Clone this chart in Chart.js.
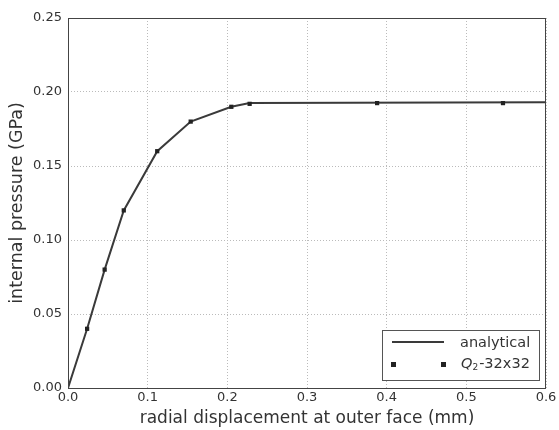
<!DOCTYPE html>
<html>
<head>
<meta charset="utf-8">
<script src="https://cdn.jsdelivr.net/npm/chart.js@4/dist/chart.umd.min.js"></script>
<style>
  html, body { margin: 0; padding: 0; background: #fff; }
  #wrap { width: 559px; height: 430px; }
</style>
</head>
<body>
<div id="wrap"><canvas id="chart" width="559" height="430"></canvas></div>
<script>
// analytical solution
const analyticalX = [0, 0.024, 0.046, 0.070, 0.112, 0.154, 0.205, 0.228, 0.6];
const analyticalY = [0, 0.040, 0.080, 0.120, 0.160, 0.180, 0.190, 0.1925, 0.193];

// Q2-32x32 results
const q2X = [0.024, 0.046, 0.070, 0.112, 0.154, 0.205, 0.228, 0.388, 0.546];
const q2Y = [0.040, 0.080, 0.120, 0.160, 0.180, 0.190, 0.192, 0.1925, 0.1925];

const xTicks = [0, 0.1, 0.2, 0.3, 0.4, 0.5, 0.6];
const yTicks = [0, 0.05, 0.1, 0.15, 0.2, 0.25];

const FONT = "'DejaVu Sans', sans-serif";
const INK = "#333";

const toPoints = (xs, ys) => xs.map((x, i) => ({ x: x, y: ys[i] }));

// frame round the plot area plus matplotlib-style legend box
const framePlugin = {
  id: "frame",
  afterDraw(chart) {
    const ctx = chart.ctx;
    const a = chart.chartArea;
    ctx.save();
    ctx.strokeStyle = "#444";
    ctx.lineWidth = 1;
    ctx.strokeRect(a.left + 0.5, a.top + 0.5, a.right - a.left - 1, a.bottom - a.top);

    // legend
    const lx = 382, ly = 330, lw = 157, lh = 50;
    ctx.fillStyle = "#fff";
    ctx.fillRect(lx, ly, lw, lh);
    ctx.strokeStyle = "#555";
    ctx.strokeRect(lx + 0.5, ly + 0.5, lw, lh);

    ctx.strokeStyle = "#3a3a3a";
    ctx.lineWidth = 2;
    ctx.beginPath();
    ctx.moveTo(392, 342);
    ctx.lineTo(444, 342);
    ctx.stroke();

    ctx.fillStyle = "#222";
    ctx.fillRect(391, 362, 5, 5);
    ctx.fillRect(441, 362, 5, 5);

    ctx.fillStyle = INK;
    ctx.textBaseline = "middle";
    ctx.font = "14.5px " + FONT;
    ctx.fillText("analytical", 460, 343);
    ctx.font = "italic 14.5px " + FONT;
    ctx.fillText("Q", 461, 364);
    let w = ctx.measureText("Q").width;
    ctx.font = "9px " + FONT;
    ctx.fillText("2", 461 + w, 368);
    w += ctx.measureText("2").width;
    ctx.font = "14.5px " + FONT;
    ctx.fillText("-32x32", 461 + w + 1, 364);
    ctx.restore();
  },
};

new Chart(document.getElementById("chart"), {
  type: "scatter",
  data: {
    datasets: [
      {
        label: "analytical",
        data: toPoints(analyticalX, analyticalY),
        showLine: true,
        borderColor: "#3a3a3a",
        borderWidth: 2,
        pointRadius: 0,
        order: 2,
      },
      {
        label: "Q2-32x32",
        data: toPoints(q2X, q2Y),
        showLine: false,
        pointStyle: "rect",
        pointRadius: 3,
        backgroundColor: "#222",
        borderColor: "#222",
        borderWidth: 0,
        order: 1,
      },
    ],
  },
  options: {
    responsive: false,
    animation: false,
    layout: { padding: { top: 18, right: 13, left: 0, bottom: 0 } },
    plugins: {
      legend: { display: false },
      tooltip: { enabled: false },
    },
    scales: {
      x: {
        type: "linear",
        min: 0,
        max: 0.6,
        afterBuildTicks: (scale) => {
          scale.ticks = xTicks.map((v) => ({ value: v }));
        },
        afterFit: (scale) => {
          scale.height = 42;
        },
        ticks: {
          color: INK,
          font: { family: FONT, size: 13 },
          padding: 2,
          maxRotation: 0,
          callback: (v) => v.toFixed(1),
        },
        grid: { color: "#bbb", lineWidth: 1, drawTicks: false },
        border: { display: false, dash: [1, 2] },
        title: {
          display: true,
          text: "radial displacement at outer face (mm)",
          color: INK,
          font: { family: FONT, size: 17 },
          padding: { top: 0, bottom: 1 },
        },
      },
      y: {
        type: "linear",
        min: 0,
        max: 0.25,
        afterBuildTicks: (scale) => {
          scale.ticks = yTicks.map((v) => ({ value: v }));
        },
        afterFit: (scale) => {
          scale.width = 68;
        },
        ticks: {
          color: INK,
          font: { family: FONT, size: 13 },
          padding: 6,
          callback: (v) => v.toFixed(2),
        },
        grid: { color: "#bbb", lineWidth: 1, drawTicks: false },
        border: { display: false, dash: [1, 2] },
        title: {
          display: true,
          text: "internal pressure (GPa)",
          color: INK,
          font: { family: FONT, size: 17.5 },
          padding: { top: 7, bottom: 0 },
        },
      },
    },
  },
  plugins: [framePlugin],
});
</script>
</body>
</html>
